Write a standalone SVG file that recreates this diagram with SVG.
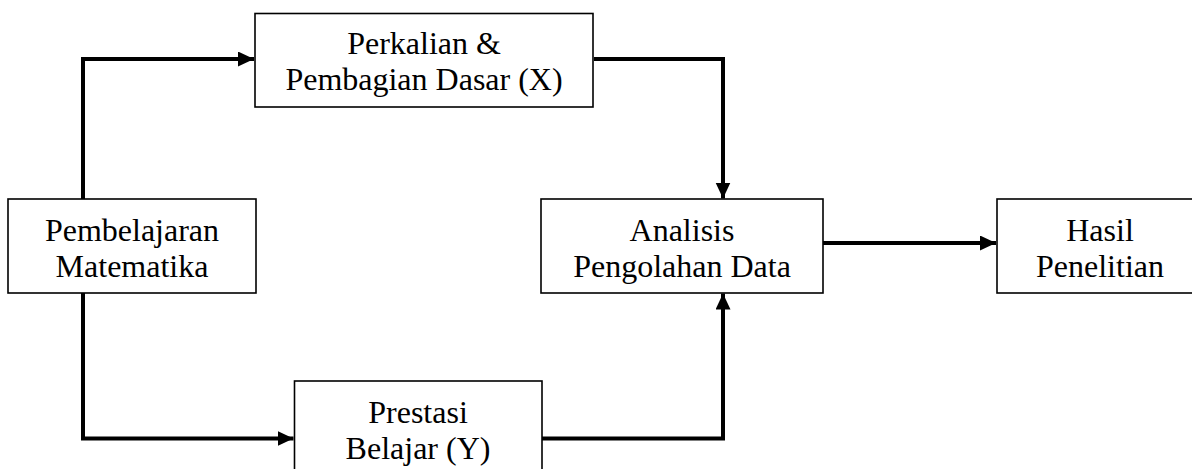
<svg xmlns="http://www.w3.org/2000/svg" width="1192" height="469" viewBox="0 0 1192 469">
  <style>
    .box { fill: #ffffff; stroke: #000000; stroke-width: 1.6; }
    .lbl { font-family: "Liberation Serif", "Times New Roman", serif; font-size: 32px; fill: #000000; text-anchor: middle; }
    .conn { fill: none; stroke: #000000; stroke-width: 4; stroke-linejoin: miter; stroke-linecap: butt; }
  </style>
  <defs>
    <marker id="arr" markerUnits="userSpaceOnUse" markerWidth="17" markerHeight="16" refX="16" refY="7.5" orient="auto">
      <path d="M0,0 L16,7.5 L0,15 Z" fill="#000000"/>
    </marker>
  </defs>
  <rect width="1192" height="469" fill="#ffffff"/>

  <g id="connectors">
    <path class="conn" d="M83,199 L83,59 L254,59" marker-end="url(#arr)"/>
    <path class="conn" d="M83,293 L83,438.5 L293.5,438.5" marker-end="url(#arr)"/>
    <path class="conn" d="M594,59 L723,59 L723,198.5" marker-end="url(#arr)"/>
    <path class="conn" d="M542,438.5 L723,438.5 L723,293.5" marker-end="url(#arr)"/>
    <path class="conn" d="M823,243 L996,243" marker-end="url(#arr)"/>
  </g>

  <g id="node-perkalian">
    <rect class="box" x="255" y="13.5" width="338" height="93.5"/>
    <text class="lbl" x="424" y="53.5">Perkalian &amp;</text>
    <text class="lbl" x="424" y="90">Pembagian Dasar (X)</text>
  </g>

  <g id="node-pembelajaran">
    <rect class="box" x="8" y="199" width="248" height="94"/>
    <text class="lbl" x="132" y="240.5">Pembelajaran</text>
    <text class="lbl" x="132" y="277">Matematika</text>
  </g>

  <g id="node-analisis">
    <rect class="box" x="541" y="199" width="282" height="94"/>
    <text class="lbl" x="682" y="240.5">Analisis</text>
    <text class="lbl" x="682" y="277">Pengolahan Data</text>
  </g>

  <g id="node-hasil">
    <rect class="box" x="997" y="199" width="206" height="94"/>
    <text class="lbl" x="1100" y="240.5">Hasil</text>
    <text class="lbl" x="1100" y="277">Penelitian</text>
  </g>

  <g id="node-prestasi">
    <rect class="box" x="294.5" y="381" width="247.5" height="94"/>
    <text class="lbl" x="418" y="422.5">Prestasi</text>
    <text class="lbl" x="418" y="459">Belajar (Y)</text>
  </g>
</svg>
